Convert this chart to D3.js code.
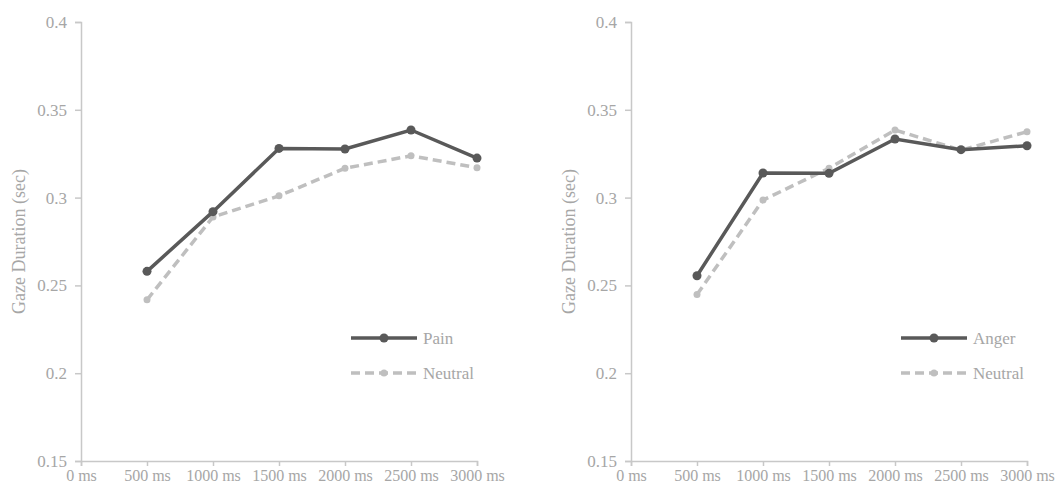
<!DOCTYPE html>
<html>
<head>
<meta charset="utf-8">
<script src="https://cdn.jsdelivr.net/npm/d3@7"></script>
<style>
  body { margin: 0; background: #fff; }
  text { font-family: "Liberation Serif", "Times New Roman", serif; fill: #a6a6a6; }
</style>
</head>
<body>
<svg id="chart" width="1055" height="484"></svg>
<script>
// data
const times = [500, 1000, 1500, 2000, 2500, 3000];
const xTicks = [0, 500, 1000, 1500, 2000, 2500, 3000];
const yTicks = [0.15, 0.2, 0.25, 0.3, 0.35, 0.4];

const painValues = [0.258, 0.292, 0.328, 0.3277, 0.3385, 0.3225];
const neutralLeft = [0.2418, 0.289, 0.301, 0.3167, 0.3238, 0.317];
const angerValues = [0.2555, 0.314, 0.3138, 0.3334, 0.3273, 0.3295];
const neutralRight = [0.2448, 0.2986, 0.3167, 0.3385, 0.327, 0.3375];

const panels = [
  { left: 81, right: 477, main: "Pain", mainVals: painValues, neutralVals: neutralLeft, legendX: 351 },
  { left: 631, right: 1027, main: "Anger", mainVals: angerValues, neutralVals: neutralRight, legendX: 901 }
];

const plotTop = 22, plotBottom = 461;
const darkCol = "#595959", lightCol = "#bfbfbf", axisCol = "#c8c8c8";

const svg = d3.select("#chart");

panels.forEach(p => {
  let g = svg.append("g");

  let x = d3.scaleLinear().domain([0, 3000]).range([p.left, p.right]);
  let y = d3.scaleLinear().domain([0.15, 0.4]).range([plotBottom, plotTop]);

  // y axis
  let yAxis = g.append("g")
    .attr("transform", `translate(${p.left},0)`)
    .call(d3.axisLeft(y).tickValues(yTicks).tickSize(6).tickPadding(8)
      .tickFormat(d => d3.format("")(+d.toFixed(2))));
  yAxis.select(".domain").attr("stroke", axisCol).attr("stroke-width", 1.5);
  yAxis.selectAll(".tick line").attr("stroke", axisCol).attr("stroke-width", 1.5);
  yAxis.selectAll(".tick text").attr("font-size", 17).attr("fill", "#a6a6a6")
    .style("font-family", "'Liberation Serif', serif");

  // x axis
  let xAxis = g.append("g")
    .attr("transform", `translate(0,${plotBottom})`)
    .call(d3.axisBottom(x).tickValues(xTicks).tickSize(5).tickPadding(4)
      .tickFormat(d => d + " ms"));
  xAxis.select(".domain").attr("stroke", axisCol).attr("stroke-width", 1.5);
  xAxis.selectAll(".tick line").attr("stroke", axisCol).attr("stroke-width", 1.5);
  xAxis.selectAll(".tick text").attr("font-size", 16).attr("fill", "#a6a6a6")
    .style("font-family", "'Liberation Serif', serif");

  // y title
  g.append("text")
    .attr("transform", `translate(${p.left - 56},${(plotTop + plotBottom) / 2}) rotate(-90)`)
    .attr("text-anchor", "middle")
    .attr("font-size", 18)
    .text("Gaze Duration (sec)");

  let line = d3.line().x((d, i) => x(times[i])).y(d => y(d));

  // neutral (dashed)
  g.append("path")
    .datum(p.neutralVals)
    .attr("d", line)
    .attr("fill", "none")
    .attr("stroke", lightCol)
    .attr("stroke-width", 3.5)
    .attr("stroke-dasharray", "9,5");
  g.selectAll(".nDot")
    .data(p.neutralVals)
    .join("circle")
      .attr("class", "nDot")
      .attr("cx", (d, i) => x(times[i]))
      .attr("cy", d => y(d))
      .attr("r", 3.5)
      .attr("fill", lightCol);

  // emotion (solid)
  g.append("path")
    .datum(p.mainVals)
    .attr("d", line)
    .attr("fill", "none")
    .attr("stroke", darkCol)
    .attr("stroke-width", 3.5);
  g.selectAll(".mDot")
    .data(p.mainVals)
    .join("circle")
      .attr("class", "mDot")
      .attr("cx", (d, i) => x(times[i]))
      .attr("cy", d => y(d))
      .attr("r", 4.5)
      .attr("fill", darkCol);

  // legend
  let lg = g.append("g").attr("transform", `translate(${p.legendX},0)`);
  lg.append("line").attr("x1", 0).attr("x2", 66).attr("y1", 338).attr("y2", 338)
    .attr("stroke", darkCol).attr("stroke-width", 3.5);
  lg.append("circle").attr("cx", 33).attr("cy", 338).attr("r", 4.5).attr("fill", darkCol);
  lg.append("text").attr("x", 72).attr("y", 344).attr("font-size", 17).text(p.main);

  lg.append("line").attr("x1", 0).attr("x2", 66).attr("y1", 373).attr("y2", 373)
    .attr("stroke", lightCol).attr("stroke-width", 3.5).attr("stroke-dasharray", "9,5");
  lg.append("circle").attr("cx", 33).attr("cy", 373).attr("r", 3.5).attr("fill", lightCol);
  lg.append("text").attr("x", 72).attr("y", 379).attr("font-size", 17).text("Neutral");
});
</script>
</body>
</html>
